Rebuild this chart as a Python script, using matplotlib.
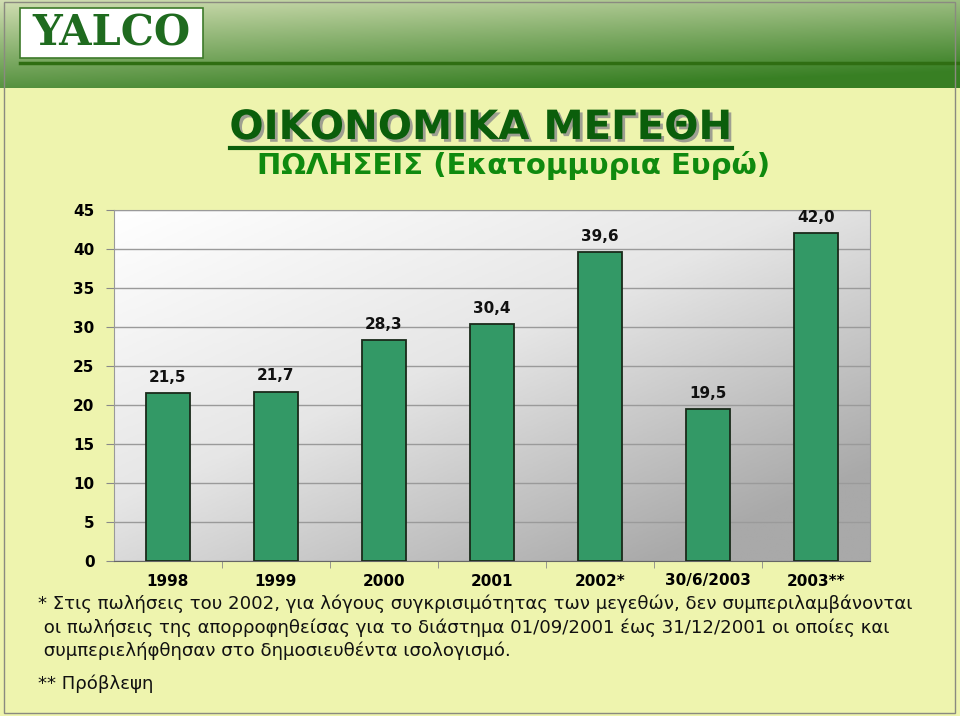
import matplotlib.pyplot as plt
import matplotlib.patheffects as pe
import numpy as np
from matplotlib.patches import Rectangle
from matplotlib.colors import LinearSegmentedColormap

categories = ["1998", "1999", "2000", "2001", "2002*", "30/6/2003", "2003**"]
sales = [21.5, 21.7, 28.3, 30.4, 39.6, 19.5, 42.0]
yticks = [0, 5, 10, 15, 20, 25, 30, 35, 40, 45]

title = "ΟΙΚΟΝΟΜΙΚΑ ΜΕΓΕΘΗ"
subtitle = "ΠΩΛΗΣΕΙΣ (Εκατομμυρια Ευρώ)"
notes = ["* Στις πωλήσεις του 2002, για λόγους συγκρισιμότητας των μεγεθών, δεν συμπεριλαμβάνονται",
         " οι πωλήσεις της απορροφηθείσας για το διάστημα 01/09/2001 έως 31/12/2001 οι οποίες και",
         " συμπεριελήφθησαν στο δημοσιευθέντα ισολογισμό.",
         "** Πρόβλεψη"]

W, H = 960, 716
bg = "#eef4ae"
fig = plt.figure(figsize=(W / 100, H / 100), dpi=100)
fig.patch.set_facecolor(bg)

# full-figure overlay axes in pixel coords (y down)
over = fig.add_axes([0, 0, 1, 1], zorder=0)
over.set_xlim(0, W)
over.set_ylim(H, 0)
over.axis("off")

# header gradient
yy = np.linspace(0, 1, 90)[:, None]
xx = np.linspace(0, 1, 200)[None, :]
top = np.array([0.82, 0.87, 0.70])
bot = np.array([0.22, 0.50, 0.14])
t = np.clip(yy * 0.8 + xx * 0.35, 0, 1)[..., None]
grad = top * (1 - t) + bot * t
over.imshow(grad, extent=[0, W, 88, 0], aspect="auto", zorder=1)
over.plot([20, W], [63, 63], color="#2f6e12", lw=2.5, zorder=2)

# logo
over.add_patch(Rectangle((20, 8), 183, 50, facecolor="white", edgecolor="#3d7a2a", lw=1.2, zorder=3))
over.text(111, 34, "YALCO", ha="center", va="center", fontsize=30, fontweight="heavy",
          color="#1f6b1f", family="DejaVu Serif", zorder=4)

# slide border
over.add_patch(Rectangle((4, 2), 951, 711, facecolor="none", edgecolor="#8a8a80", lw=1, zorder=2))

# titles
over.text(481, 128, title, ha="center", va="center", fontsize=29, fontweight="bold",
          color="#0b5e0b", zorder=4,
          path_effects=[pe.withSimplePatchShadow(offset=(2, -2), shadow_rgbFace="#8a8a8a", alpha=0.8)])
over.plot([230, 732], [148, 148], color="#0b5e0b", lw=3, zorder=4)
over.text(514, 166, subtitle, ha="center", va="center", fontsize=21, fontweight="bold",
          color="#0f8a0f", zorder=4)

# footnotes
note_y = [604, 628, 651, 684]
for s, y in zip(notes, note_y):
    over.text(38, y, s, ha="left", va="center", fontsize=13.1, color="#111111", zorder=4)

# chart
left, right, topy, boty = 114, 870, 210, 561
ax = fig.add_axes([left / W, 1 - boty / H, (right - left) / W, (boty - topy) / H], zorder=5)
ax.set_facecolor("none")
gx = np.linspace(0, 1, 200)[None, :]
gy = np.linspace(0, 1, 200)[:, None]
g = np.clip(0.55 * gx + 0.6 * gy, 0, 1)
cmap = LinearSegmentedColormap.from_list("pg", ["#ffffff", "#e6e6e6", "#a9a9a9"])
ax.imshow(g, extent=[0, 1, 0, 1], transform=ax.transAxes, cmap=cmap, aspect="auto", zorder=0)

x = np.arange(len(categories))
ax.bar(x, sales, width=0.41, color="#339966", edgecolor="#1a2a1a", lw=1.3, zorder=3)
for xi, v in zip(x, sales):
    ax.annotate(f"{v:.1f}".replace(".", ","), (xi, v), xytext=(0, 6), textcoords="offset points",
                ha="center", va="bottom", fontsize=11, fontweight="bold", color="#111111")

ax.set_xlim(-0.5, len(categories) - 0.5)
ax.set_ylim(0, 45)
ax.set_yticks(yticks)
ax.set_yticklabels([str(v) for v in yticks], fontsize=11, fontweight="bold")
ax.set_xticks(x)
ax.set_xticklabels(categories, fontsize=11, fontweight="bold")
ax.tick_params(axis="x", length=0, pad=9)
ax.tick_params(axis="y", length=6, color="#888888", pad=8)
ax.set_xticks(np.arange(0.5, len(categories) - 1, 1), minor=True)
ax.tick_params(axis="x", which="minor", length=5, color="#888888")
ax.grid(axis="y", color="#9a9a9a", lw=1, zorder=1)
for sp in ["top", "right", "left"]:
    ax.spines[sp].set_color("#9a9a9a")
ax.spines["bottom"].set_color("#666666")

fig.savefig("out.png", dpi=100, facecolor=bg)
